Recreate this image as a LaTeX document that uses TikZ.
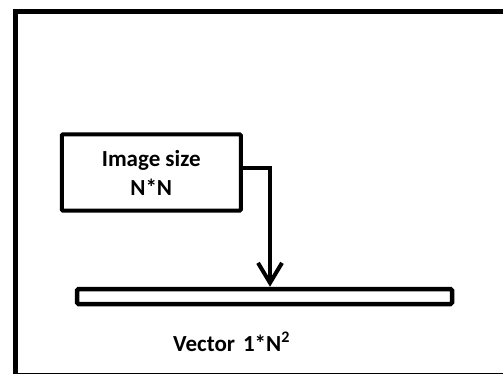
\documentclass[tikz,border=0pt]{standalone}
\usepackage{fontspec}
\setmainfont{Carlito}
\usetikzlibrary{arrows.meta}
\begin{document}
\begin{tikzpicture}[x=1pt,y=-1pt,
  frame/.style={line width=5pt},
  boxstyle/.style={draw,line width=4pt,minimum width=179pt,minimum height=76pt,inner sep=0pt,font=\bfseries\fontsize{23}{29}\selectfont,align=center,rounded corners=1pt},
  barstyle/.style={draw,line width=4.5pt,minimum width=375pt,minimum height=15pt,inner sep=0pt,rounded corners=1.5pt},
  conn/.style={line width=4pt,-{Straight Barb[length=20pt,width=24pt,line width=4pt]}},
  lbl/.style={font=\bfseries\fontsize{23}{27}\selectfont,inner sep=0pt}]
\useasboundingbox (0,0) rectangle (503,374);
\begin{scope}
\clip (0,0) rectangle (503,374);
\draw[frame] (15.5,12) rectangle (530,375.5);
\end{scope}
\node[boxstyle] (img) at (151.25,172.5) {Image size\\N*N};
\node[barstyle] (vec) at (264.5,296.5) {};
\coordinate (turn) at (270,168.5);
\draw[conn] (img.east |- turn) -- (turn) -- (turn |- vec.north);
\node[lbl,anchor=base west] (vlab) at (173,351.5) {Vector\hspace{8pt}1*N\textsuperscript{2}};
\end{tikzpicture}
\end{document}
